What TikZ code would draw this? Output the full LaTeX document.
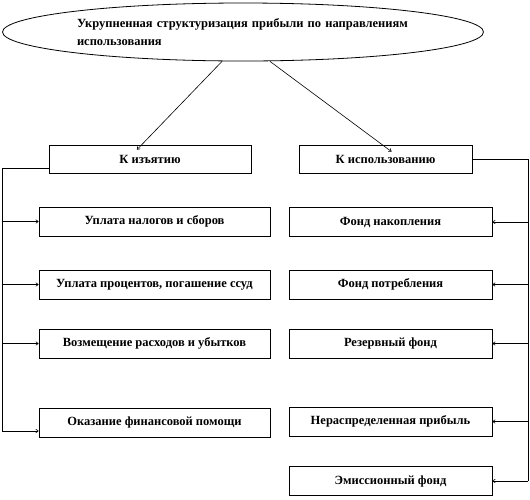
\documentclass[tikz,border=0pt]{standalone}
\usepackage{fontspec}
\setmainfont{Liberation Serif}
\usetikzlibrary{shapes.geometric,arrows.meta}
\begin{document}
\begin{tikzpicture}[x=1pt,y=-1pt,
  box/.style={draw,line width=0.8pt,inner sep=0pt,font=\bfseries\fontsize{12.5}{14}\selectfont},
  lbox/.style={box,minimum width=231pt,minimum height=29pt},
  rbox/.style={box,minimum width=203pt,minimum height=29pt},
  conn/.style={line width=0.6pt},
  arr/.style={conn,-{To[length=3pt,width=4pt]}}]
\useasboundingbox (0,0) rectangle (530,499);
\node[draw,line width=0.8pt,ellipse,minimum width=481pt,minimum height=58pt,inner sep=0pt,
  text width=332pt,align=left,font=\bfseries\fontsize{12.5}{18}\selectfont] (ell) at (243,32)
  {Укрупненная структуризация прибыли по направлениям использования};
\node[box,minimum width=202pt,minimum height=28pt] (kiz) at (150,159) {К изъятию};
\node[box,minimum width=173pt,minimum height=28pt] (kisp) at (385.5,159) {К использованию};
\node[lbox] (l1) at (154.5,221.5) {Уплата налогов и сборов};
\node[lbox] (l2) at (154.5,284.5) {Уплата процентов, погашение ссуд};
\node[lbox] (l3) at (154.5,343.5) {Возмещение расходов и убытков};
\node[lbox] (l4) at (154.5,422.5) {Оказание  финансовой помощи};
\node[rbox] (r1) at (390.5,222) {Фонд накопления};
\node[rbox] (r2) at (390.5,284.5) {Фонд потребления};
\node[rbox] (r3) at (390.5,343.5) {Резервный фонд};
\node[rbox] (r4) at (390.5,421.5) {Нераспределенная прибыль};
\node[rbox] (r5) at (390.5,481) {Эмиссионный фонд};
\draw[arr] ([xshift=-21pt]ell.south) -- ([xshift=-13pt,yshift=-5pt]kiz.north);
\draw[arr] ([xshift=27pt]ell.south) -- ([xshift=6pt,yshift=-7pt]kisp.north);
\coordinate (lb) at (2,168);
\coordinate (rb) at (528,159);
\draw[conn] (kiz.west |- lb) -- (lb) -- (lb |- 0,431);
\draw[arr] (lb |- l1.west) -- (l1.west);
\draw[arr] (lb |- l2.west) -- (l2.west);
\draw[arr] (lb |- l3.west) -- (l3.west);
\draw[arr] (2,431) -- ([yshift=-8.5pt]l4.west);
\draw[conn] (kisp.east) -- (rb) -- (rb |- r5.east);
\draw[arr] (rb |- r1.east) -- (r1.east);
\draw[arr] (rb |- r2.east) -- (r2.east);
\draw[arr] (rb |- r3.east) -- (r3.east);
\draw[arr] (rb |- r4.east) -- (r4.east);
\draw[arr] (rb |- r5.east) -- (r5.east);
\end{tikzpicture}
\end{document}
